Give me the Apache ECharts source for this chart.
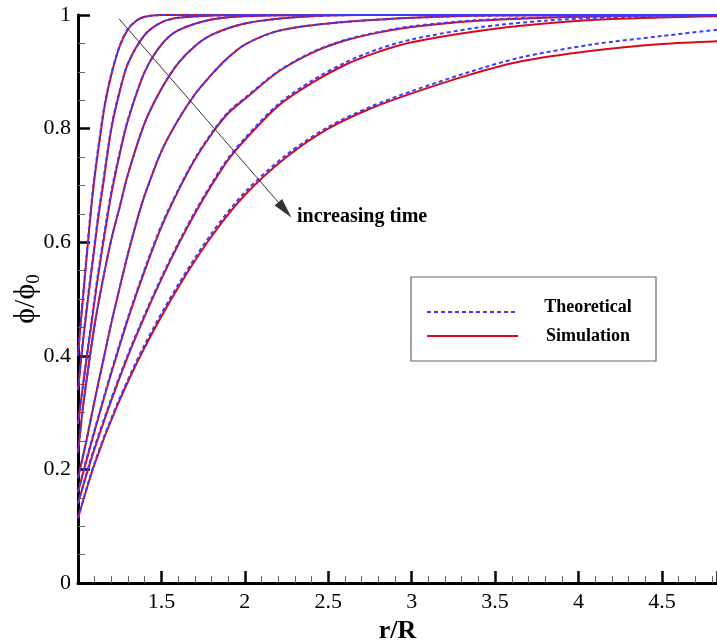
<!DOCTYPE html>
<html><head><meta charset="utf-8">
<script src="https://cdn.jsdelivr.net/npm/echarts@6/dist/echarts.min.js"></script>
<style>html,body{margin:0;padding:0;background:#fff}#c{width:717px;height:641px}</style>
</head><body><div id="c"></div>
<script>
// ---- data (r/R and phi/phi0) ----
const r1 = [1, 1.02, 1.04, 1.06, 1.08, 1.1, 1.13, 1.16, 1.2, 1.25, 1.3, 1.35, 1.4, 1.5, 2, 4.83];
const sim1 = [0.40, 0.47, 0.535, 0.60, 0.662, 0.715, 0.78, 0.84, 0.895, 0.945, 0.975, 0.99, 0.997, 1.0, 1.0, 1.0];
const theo1 = [0.40, 0.472, 0.54, 0.605, 0.667, 0.72, 0.785, 0.843, 0.897, 0.946, 0.976, 0.99, 0.997, 1.0, 1.0, 1.0];

const r2 = [1, 1.03, 1.06, 1.09, 1.12, 1.15, 1.2, 1.25, 1.3, 1.4, 1.5, 1.6, 1.8, 2, 4.83];
const sim2 = [0.34, 0.425, 0.50, 0.57, 0.64, 0.70, 0.80, 0.865, 0.915, 0.965, 0.987, 0.995, 0.999, 1.0, 1.0];
const theo2 = [0.34, 0.428, 0.505, 0.575, 0.645, 0.705, 0.803, 0.867, 0.915, 0.965, 0.987, 0.995, 0.999, 1.0, 1.0];

const r3 = [1, 1.04, 1.08, 1.12, 1.16, 1.2, 1.25, 1.3, 1.4, 1.5, 1.6, 1.8, 2.0, 2.5, 4.83];
const sim3 = [0.28, 0.37, 0.455, 0.54, 0.615, 0.685, 0.755, 0.815, 0.90, 0.948, 0.973, 0.992, 0.998, 1.0, 1.0];
const theo3 = [0.28, 0.372, 0.46, 0.545, 0.62, 0.69, 0.758, 0.817, 0.90, 0.948, 0.973, 0.992, 0.998, 1.0, 1.0];

const r4 = [1, 1.03, 1.06, 1.1, 1.15, 1.2, 1.25, 1.3, 1.4, 1.5, 1.6, 1.7, 1.8, 2.0, 2.3, 2.7, 4.83];
const sim4 = [0.23, 0.31, 0.375, 0.455, 0.535, 0.605, 0.662, 0.72, 0.81, 0.87, 0.915, 0.945, 0.965, 0.985, 0.996, 1.0, 1.0];
const theo4 = [0.23, 0.31, 0.375, 0.455, 0.535, 0.605, 0.662, 0.72, 0.81, 0.87, 0.915, 0.945, 0.965, 0.985, 0.996, 1.0, 1.0];

const r5 = [1, 1.05, 1.1, 1.15, 1.2, 1.25, 1.3, 1.36, 1.4, 1.5, 1.6, 1.7, 1.8, 1.9, 2.0, 2.2, 2.5, 3.0, 3.5, 4.83];
const sim5 = [0.185, 0.25, 0.322, 0.39, 0.458, 0.52, 0.58, 0.645, 0.683, 0.76, 0.815, 0.86, 0.895, 0.925, 0.948, 0.972, 0.985, 0.995, 0.999, 1.0];
const theo5 = [0.185, 0.25, 0.322, 0.39, 0.458, 0.52, 0.58, 0.645, 0.683, 0.76, 0.815, 0.86, 0.895, 0.925, 0.948, 0.972, 0.985, 0.995, 0.999, 1.0];

const r6 = [1, 1.05, 1.1, 1.15, 1.2, 1.3, 1.4, 1.5, 1.6, 1.7, 1.8, 1.9, 2.0, 2.2, 2.4, 2.6, 2.8, 3.0, 3.4, 4.0, 4.83];
const sim6 = [0.16, 0.215, 0.268, 0.32, 0.37, 0.465, 0.55, 0.627, 0.69, 0.745, 0.79, 0.827, 0.852, 0.9, 0.933, 0.955, 0.969, 0.979, 0.99, 0.997, 1.0];
const theo6 = [0.16, 0.217, 0.27, 0.322, 0.373, 0.468, 0.553, 0.63, 0.692, 0.747, 0.792, 0.829, 0.854, 0.901, 0.934, 0.956, 0.97, 0.98, 0.991, 0.997, 1.0];

const r7 = [1, 1.05, 1.1, 1.2, 1.3, 1.4, 1.5, 1.6, 1.7, 1.8, 1.9, 2.0, 2.2, 2.4, 2.6, 2.8, 3.0, 3.4, 3.8, 4.2, 4.83];
const sim7 = [0.14, 0.19, 0.237, 0.322, 0.40, 0.47, 0.535, 0.595, 0.65, 0.70, 0.745, 0.78, 0.84, 0.88, 0.912, 0.935, 0.952, 0.972, 0.985, 0.993, 0.998];
const theo7 = [0.14, 0.192, 0.24, 0.325, 0.403, 0.473, 0.538, 0.598, 0.653, 0.703, 0.748, 0.783, 0.843, 0.884, 0.916, 0.94, 0.957, 0.978, 0.99, 0.996, 0.999];

const r8 = [1, 1.1, 1.232, 1.4, 1.6, 1.8, 2.0, 2.25, 2.5, 2.75, 3.0, 3.35, 3.65, 4.08, 4.5, 4.83];
const sim8 = [0.114, 0.21, 0.31, 0.415, 0.52, 0.61, 0.683, 0.75, 0.80, 0.835, 0.862, 0.895, 0.918, 0.937, 0.949, 0.954];
const theo8 = [0.114, 0.212, 0.313, 0.42, 0.525, 0.615, 0.688, 0.754, 0.803, 0.838, 0.866, 0.90, 0.925, 0.948, 0.963, 0.974];

const radii = [r1, r2, r3, r4, r5, r6, r7, r8];
const simulation = [sim1, sim2, sim3, sim4, sim5, sim6, sim7, sim8];
const theoretical = [theo1, theo2, theo3, theo4, theo5, theo6, theo7, theo8];

const xTicks = [1.5, 2, 2.5, 3, 3.5, 4, 4.5];
const yTicks = [0, 0.2, 0.4, 0.6, 0.8, 1];
const arrowFrom = [1.247, 0.993];
const arrowTo = [2.24, 0.657];
const legendNames = ['Theoretical', 'Simulation'];
const annotation = 'increasing time';

// ---- chart ----
const FONT = "'Liberation Serif','Times New Roman',serif";
const RED = '#d8091c';
const BLUE = '#3c3cff';
const chart = echarts.init(document.getElementById('c'));
const pair = (xs, ys) => xs.map((x, i) => [x, ys[i]]);

const series = [];
for (let i = 0; i < radii.length; i++) {
  series.push({
    type: 'line', name: legendNames[1], data: pair(radii[i], simulation[i]),
    showSymbol: false, smooth: 0.3, clip: false, z: 2,
    lineStyle: { color: RED, width: 2 }
  });
}
for (let i = 0; i < radii.length; i++) {
  const s = {
    type: 'line', name: legendNames[0], data: pair(radii[i], theoretical[i]),
    showSymbol: false, smooth: 0.3, clip: false, z: 3,
    lineStyle: { color: BLUE, width: 2, type: [4, 3] }
  };
  if (i === radii.length - 1) {
    s.markLine = {
      silent: true, symbol: ['none', 'triangle'], symbolSize: [10, 20],
      label: { show: false }, lineStyle: { color: '#333', width: 1, type: 'solid' },
      data: [[{ coord: arrowFrom }, { coord: arrowTo }]]
    };
  }
  series.push(s);
}

const option = {
  animation: false,
  backgroundColor: '#fff',
  grid: { left: 78, right: 0, top: 15, bottom: 58, containLabel: false, outerBoundsMode: 'none' },
  xAxis: {
    type: 'value', min: 1, max: 4.83, interval: 0.5,
    name: 'r/R', nameLocation: 'middle', nameGap: 35, nameMoveOverlap: false,
    nameTextStyle: { fontFamily: FONT, fontSize: 26, fontWeight: 'bold', color: '#000' },
    axisLine: { show: true, onZero: false, lineStyle: { color: '#000', width: 3 } },
    axisTick: { inside: true, length: 12, lineStyle: { color: '#000', width: 2.5 } },
    minorTick: { show: true, splitNumber: 5, length: 7, lineStyle: { color: '#666', width: 1 } },
    splitLine: { show: false },
    axisLabel: { fontFamily: FONT, fontSize: 22, color: '#000', margin: 8, showMaxLabel: false,
      formatter: v => (xTicks.some(t => Math.abs(t - v) < 1e-6) ? String(v) : '') }
  },
  yAxis: {
    type: 'value', min: 0, max: 1, interval: 0.2,
    name: 'ϕ/ϕ{s|0}', nameLocation: 'middle', nameGap: 34, nameRotate: 90, nameMoveOverlap: false,
    nameTextStyle: { fontFamily: FONT, fontSize: 30, color: '#000',
      rich: { s: { fontFamily: FONT, fontSize: 19, color: '#000', verticalAlign: 'bottom', padding: [16, 0, 0, 0] } } },
    axisLine: { show: true, onZero: false, lineStyle: { color: '#000', width: 3 } },
    axisTick: { inside: true, length: 12, lineStyle: { color: '#000', width: 2.5 } },
    minorTick: { show: true, splitNumber: 4, length: 7, lineStyle: { color: '#666', width: 1 } },
    splitLine: { show: false },
    axisLabel: { fontFamily: FONT, fontSize: 22, color: '#000', margin: 7,
      formatter: v => { const t = yTicks.find(k => Math.abs(k - v) < 1e-6); return t === undefined ? '' : String(t); } }
  },
  graphic: [
    { type: 'rect', shape: { x: 411, y: 277, width: 245, height: 84 },
      style: { fill: '#fff', stroke: '#666', lineWidth: 1.2 }, z: 10 },
    { type: 'line', shape: { x1: 427, y1: 312, x2: 518, y2: 312 },
      style: { stroke: BLUE, lineWidth: 2, lineDash: [4, 3] }, z: 11 },
    { type: 'line', shape: { x1: 427, y1: 336, x2: 518, y2: 336 },
      style: { stroke: RED, lineWidth: 2 }, z: 11 },
    { type: 'text', x: 588, y: 307, z: 11,
      style: { text: legendNames[0], font: "bold 18px " + FONT, fill: '#000', textAlign: 'center', textVerticalAlign: 'middle' } },
    { type: 'text', x: 588, y: 336, z: 11,
      style: { text: legendNames[1], font: "bold 18px " + FONT, fill: '#000', textAlign: 'center', textVerticalAlign: 'middle' } },
    { type: 'text', x: 297, y: 217, z: 11,
      style: { text: annotation, font: "bold 20px " + FONT, fill: '#000', textAlign: 'left', textVerticalAlign: 'middle' } }
  ],
  series: series
};
chart.setOption(option);
</script></body></html>
